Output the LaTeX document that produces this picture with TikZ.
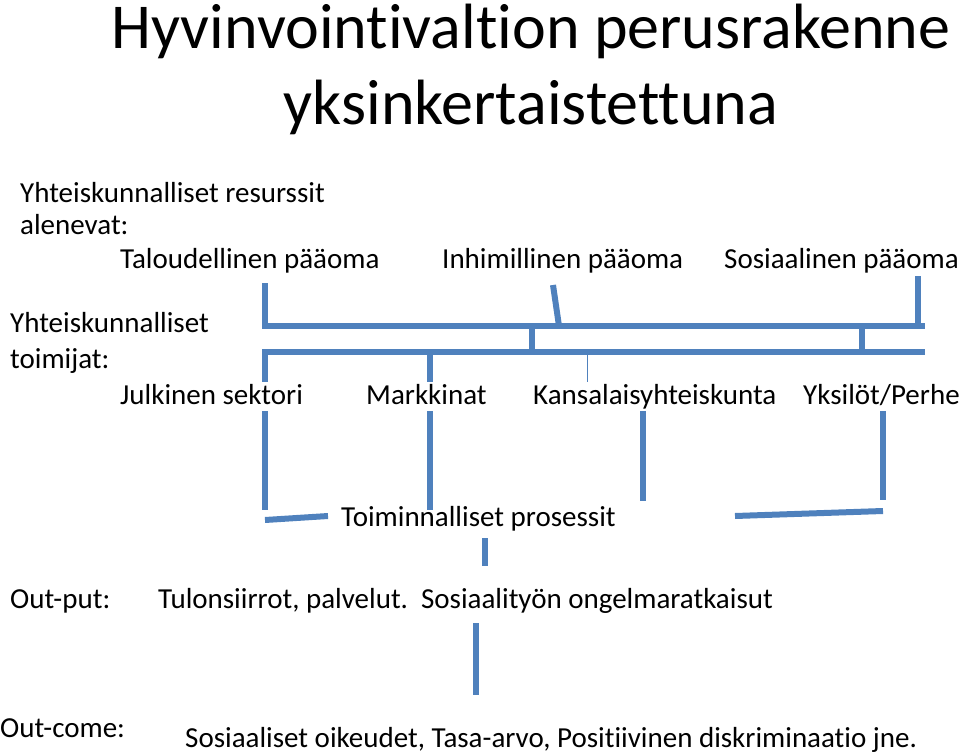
\documentclass[tikz,border=0pt]{standalone}
\usepackage{fontspec}
\setmainfont{Carlito}[Ligatures=CommonOff]
\definecolor{linkblue}{RGB}{79,129,189}

\begin{document}
\begin{tikzpicture}[x=1pt, y=-1pt,
        label/.style={anchor=base west, inner sep=0pt, font=\fontsize{29}{34}\selectfont},
        heading/.style={anchor=base, inner sep=0pt, font=\fontsize{64}{72}\selectfont},
        bar/.style={draw=linkblue, line width=6pt},
        thinbar/.style={draw=linkblue, line width=1pt}]
        \useasboundingbox (0,0) rectangle (960,754);

        % title
        \node[heading] (title1) at (531,49) {Hyvinvointivaltion perusrakenne};
        \node[heading] (title2) at (531,125) {yksinkertaistettuna};

        % resources
        \node[label] (resurssit) at (20,202) {Yhteiskunnalliset resurssit};
        \node[label] (alenevat) at (20,234) {alenevat:};
        \node[label] (talous) at (120,268) {Taloudellinen pääoma};
        \node[label] (inhim) at (442,268) {Inhimillinen pääoma};
        \node[label] (sosiaal) at (724,268) {Sosiaalinen pääoma};

        % actors
        \node[label] (toimijat1) at (10,332) {Yhteiskunnalliset};
        \node[label] (toimijat2) at (10,368) {toimijat:};
        \node[label] (julkinen) at (120,404) {Julkinen sektori};
        \node[label] (markkinat) at (366,404) {Markkinat};
        \node[label] (kansalais) at (533,404) {Kansalaisyhteiskunta};
        \node[label] (yksilot) at (803,404) {Yksilöt/Perhe};

        \node[label] (prosessit) at (341,526) {Toiminnalliset prosessit};

        \node[label] (output) at (10,608) {Out-put:};
        \node[label] (tulon) at (158,608) {Tulonsiirrot, palvelut.\ \ Sosiaalityön ongelmaratkaisut};
        \node[label] (outcome) at (0,737) {Out-come:};
        \node[label] (oikeudet) at (185,747) {Sosiaaliset oikeudet, Tasa-arvo, Positiivinen diskriminaatio jne.};

        % resources to the upper bar
        \draw[bar] (265,283) -- (265,326);
        \draw[bar] (553,285) -- (559,326);
        \draw[bar] (918,276) -- (918,326);
        \draw[bar] (262,326) -- (925,326);
        \draw[bar] (532,326) -- (532,352);
        \draw[bar] (862,326) -- (862,352);
        \draw[bar] (262,352) -- (925,352);

        % lower bar to the actors
        \draw[bar] (265,352) -- (265,382);
        \draw[bar] (430,352) -- (430,382);
        \draw[thinbar] (587,352) -- (587,382);

        % actors to the processes
        \draw[bar] (265,411) -- (265,510);
        \draw[bar] (430,411) -- (430,510);
        \draw[bar] (643,411) -- (643,501);
        \draw[bar] (883,411) -- (883,500);
        \draw[bar] (265,520) -- (328,516);
        \draw[bar] (735,516) -- (883,511);
        \draw[bar] (485,538) -- (485,566);

        % output to outcome
        \draw[bar] (476,623) -- (476,695);
\end{tikzpicture}
\end{document}
